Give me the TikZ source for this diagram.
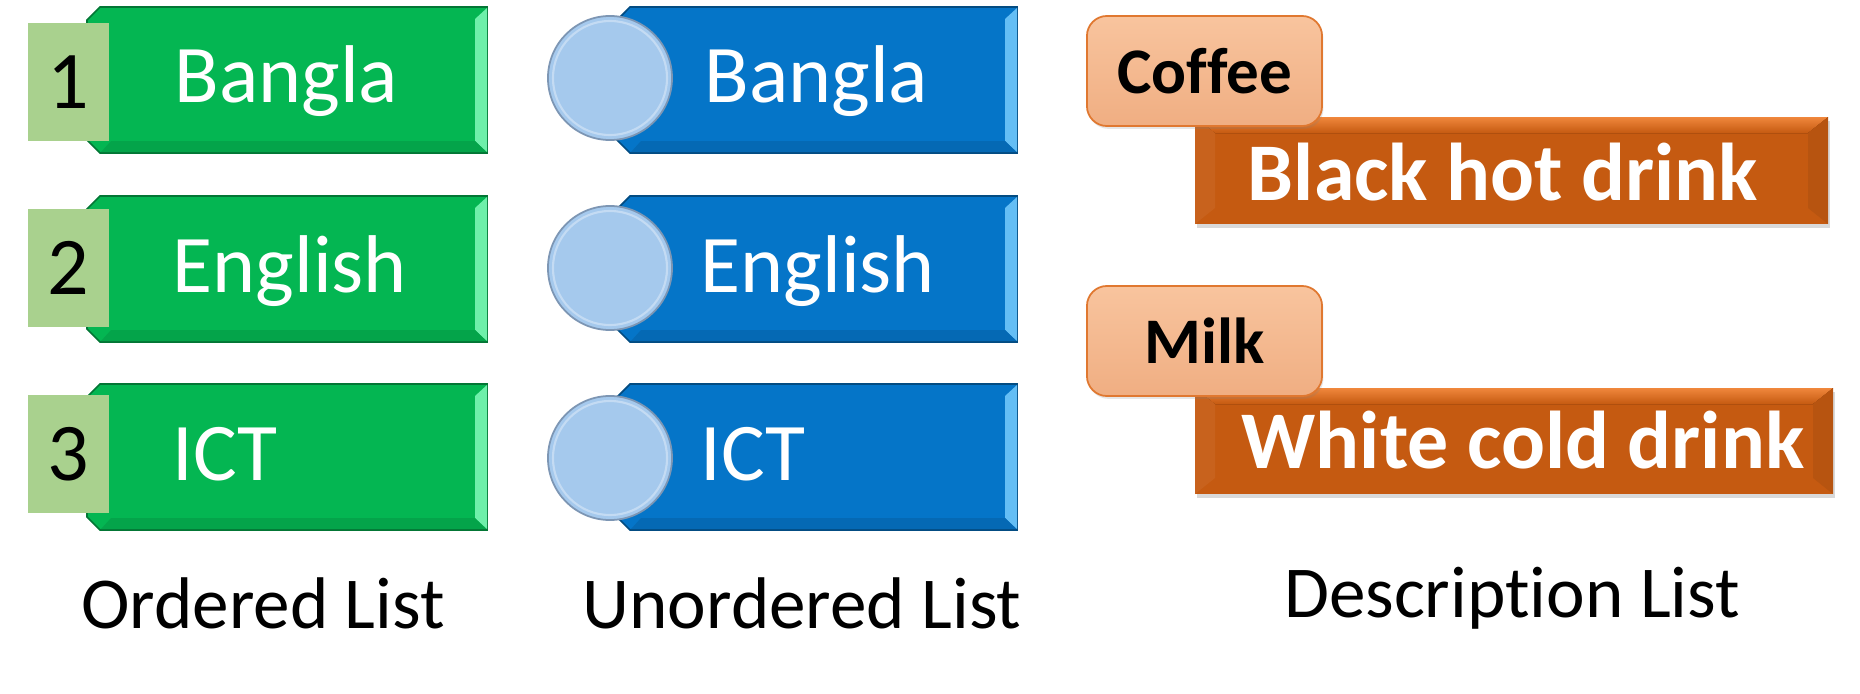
\documentclass[tikz,border=0pt]{standalone}
\usepackage{fontspec}
\setmainfont[Ligatures=NoCommon]{Carlito}
\usetikzlibrary{shapes,shadows}

\definecolor{olgreen}{RGB}{4,182,82}
\definecolor{olgreenlight}{RGB}{110,240,170}
\definecolor{olnum}{RGB}{169,209,142}
\definecolor{ulblue}{RGB}{5,117,200}
\definecolor{ulbluelight}{RGB}{100,190,245}
\definecolor{ulbullet}{RGB}{165,201,237}
\definecolor{ulbulletedge}{RGB}{125,150,180}
\definecolor{dlorange}{RGB}{197,90,17}
\definecolor{dlorangetop}{RGB}{240,135,60}
\definecolor{dlpeach}{RGB}{240,174,130}
\definecolor{dlpeachtop}{RGB}{248,196,158}
\definecolor{dlpeachedge}{RGB}{224,120,48}

\tikzset{
  itemtext/.style={font=\fontsize{23.3}{28}\selectfont, text=white, anchor=base west, inner sep=0pt},
  numbox/.style={fill=olnum, minimum width=0.81cm, minimum height=1.18cm, inner sep=0pt, font=\fontsize{23.3}{28}\selectfont},
  bullet/.style={circle, fill=ulbullet, draw=ulbulletedge, line width=0.5pt, minimum size=1.24cm, inner sep=0pt},
  termbox/.style={rounded corners=0.2cm, draw=dlpeachedge, line width=0.5pt, top color=dlpeachtop, bottom color=dlpeach, minimum width=2.35cm, minimum height=1.1cm, inner sep=0pt, font=\bfseries\fontsize{18.5}{22}\selectfont, drop shadow={opacity=.2, shadow xshift=0.4pt, shadow yshift=-0.8pt}},
  desctext/.style={font=\bfseries\fontsize{23.3}{28}\selectfont, text=white, anchor=base, inner sep=0pt},
  caption/.style={font=\fontsize{20.8}{25}\selectfont, anchor=base, inner sep=0pt}
}

% list bar: #1 left, #2 top, #3 fill, #4 bevel
\newcommand{\listbar}[4]{%
  \filldraw[fill=#3, draw=#3!65!black, line width=0.5pt] (#1+13,#2) -- (#1+400,#2) -- (#1+400,#2+146) -- (#1+13,#2+146) -- (#1,#2+133) -- (#1,#2+13) -- cycle;
  \fill[#4] (#1+388,#2+12) -- (#1+400,#2+1) -- (#1+400,#2+145) -- (#1+388,#2+134) -- cycle;
  \fill[#3!90!black] (#1+14,#2+145) -- (#1+399,#2+145) -- (#1+388,#2+134) -- (#1+24,#2+134) -- cycle;
}
% description bar: #1,#2 top left, #3,#4 bottom right
\newcommand{\descbar}[4]{%
  \fill[dlorange, drop shadow={opacity=.3, shadow xshift=0.6pt, shadow yshift=-1.2pt}] (#1,#2) rectangle (#3,#4);
  \fill[top color=dlorangetop, bottom color=dlorange] (#1,#2) -- (#3,#2) -- (#3-20,#2+16) -- (#1+20,#2+16) -- cycle;
  \fill[dlorange!93!black] (#3,#2) -- (#3,#4) -- (#3-20,#4-16) -- (#3-20,#2+16) -- cycle;
  \fill[dlorange!95!white] (#1,#2) -- (#1+20,#2+16) -- (#1+20,#4-16) -- (#1,#4) -- cycle;
}

\begin{document}
\begin{tikzpicture}[x=0.01cm,y=-0.01cm]
\useasboundingbox (0,0) rectangle (1860,694);

% ordered list
\listbar{87}{7}{olgreen}{olgreenlight}
\listbar{87}{196}{olgreen}{olgreenlight}
\listbar{87}{384}{olgreen}{olgreenlight}
\node[numbox] (n1) at (68.5,82) {1};
\node[numbox] (n2) at (68.5,268) {2};
\node[numbox] (n3) at (68.5,454) {3};
\node[itemtext] (o1) at (174,103) {Bangla};
\node[itemtext] (o2) at (172,292) {English};
\node[itemtext] (o3) at (172,480) {ICT};

% unordered list
\listbar{617}{7}{ulblue}{ulbluelight}
\listbar{617}{196}{ulblue}{ulbluelight}
\listbar{617}{384}{ulblue}{ulbluelight}
\node[bullet] (b1) at (610,78) {};
\node[bullet] (b2) at (610,268) {};
\node[bullet] (b3) at (610,458) {};
\draw[white, opacity=.35, line width=0.6pt] (b1) circle (0.57cm);
\draw[white, opacity=.35, line width=0.6pt] (b2) circle (0.57cm);
\draw[white, opacity=.35, line width=0.6pt] (b3) circle (0.57cm);
\node[itemtext] (u1) at (704,103) {Bangla};
\node[itemtext] (u2) at (700,292) {English};
\node[itemtext] (u3) at (700,480) {ICT};

% description list
\descbar{1195}{117}{1828}{224}
\descbar{1195}{388}{1833}{494}
\node[desctext] (d1) at (1503,200) {Black hot drink};
\node[desctext] (d2) at (1523,468) {White cold drink};
\node[termbox] (t1) at (1204.5,71) {Coffee};
\node[termbox] (t2) at (1204.5,341) {Milk};

% captions
\node[caption] (cap1) at (263,628) {Ordered List};
\node[caption] (cap2) at (802,628) {Unordered List};
\node[caption] (cap3) at (1512,617) {Description List};
\end{tikzpicture}
\end{document}
